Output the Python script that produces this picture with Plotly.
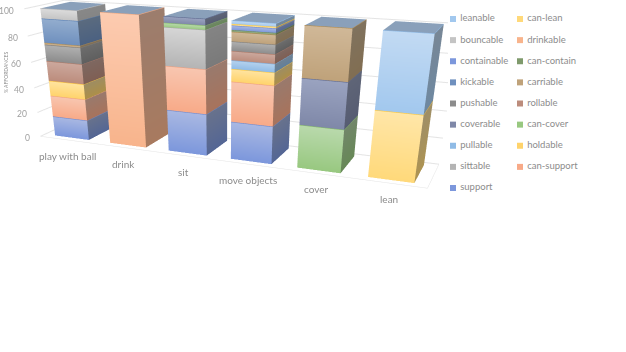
import numpy as np
import plotly.graph_objects as go

categories = ['play with ball', 'drink', 'sit', 'move objects', 'cover', 'lean']
z_ticks = [0, 20, 40, 60, 80, 100]

# stacking order, bottom to top: (name, colour at top of segment, colour at bottom)
series_names = ['support', 'can-support', 'sittable', 'holdable', 'pullable', 'can-cover',
                'coverable', 'rollable', 'pushable', 'carriable', 'kickable', 'can-contain',
                'containable', 'drinkable', 'bouncable', 'can-lean', 'leanable']
series_top = ['#A9B8E2', '#F8C6B0', '#D6D6D6', '#FFE4A0', '#B5D2EE', '#B9D9AC',
              '#9AA3C0', '#CCA99E', '#B0B0B0', '#D0B898', '#93ADCE', '#A0B590',
              '#A9B8E2', '#FCCBB0', '#DCDCDC', '#FFE6A8', '#C2DAF3']
series_bottom = ['#7C97DC', '#F8AA88', '#B4B4B4', '#FFD36B', '#8FBBE6', '#98C880',
                 '#7F88A8', '#BC8C7C', '#8C8C8C', '#BFA27A', '#6F90BE', '#7F9A6C',
                 '#7C97DC', '#F8B48C', '#C4C4C4', '#FFD97A', '#A2C8EE']
series_edge = ['#6F8AD0', '#F0A080', '#A8A8A8', '#FFC83C', '#7FAEDE', '#86BA6C',
               '#5F6A90', '#B07A68', '#808080', '#B08C50', '#5A80B4', '#6C8A58',
               '#6F8AD0', '#F0A880', '#B8B8B8', '#FFC83C', '#90BCE8']
legend_left = ['leanable', 'bouncable', 'containable', 'kickable', 'pushable', 'coverable',
               'pullable', 'sittable', 'support']
legend_right = ['can-lean', 'drinkable', 'can-contain', 'carriable', 'rollable', 'can-cover',
                'holdable', 'can-support', None]

values = {
    'support':     [16, 0, 32, 28.5, 0, 0],
    'can-support': [17, 0, 33, 29.5, 0, 0],
    'sittable':    [0, 0, 27.5, 0, 0, 0],
    'holdable':    [12, 0, 0, 9, 0, 0],
    'pullable':    [0, 0, 0, 6, 0, 0],
    'can-cover':   [0, 0, 3, 0, 32, 0],
    'coverable':   [0, 0, 4.5, 0, 33, 0],
    'rollable':    [15.5, 0, 0, 6.5, 0, 0],
    'pushable':    [12.5, 0, 0, 6.5, 0, 0],
    'carriable':   [1.5, 0, 0, 6.5, 35, 0],
    'kickable':    [18, 0, 0, 0, 0, 0],
    'can-contain': [0, 0, 0, 1.2, 0, 0],
    'containable': [0, 0, 0, 3, 0, 0],
    'drinkable':   [0, 100, 0, 0, 0, 0],
    'bouncable':   [7.5, 0, 0, 0, 0, 0],
    'can-lean':    [0, 0, 0, 1, 0, 48],
    'leanable':    [0, 0, 0, 2.3, 0, 52],
}

TOP_COLOR = '#8AA0BA'
GRID = '#E4E4E4'
TEXT = '#8C8C8C'
BAR_X = (0.19, 0.81)
BAR_Y = (0.12, 0.88)


def shade(color, f):
    r, g, b = int(color[1:3], 16), int(color[3:5], 16), int(color[5:7], 16)
    return '#%02X%02X%02X' % (int(r * f), int(g * f), int(b * f))


def box_faces(i, z0, z1, c_top, c_bot):
    # one cuboid as separate quads so every face keeps its own colours
    x0, x1 = i + BAR_X[0], i + BAR_X[1]
    y0, y1 = BAR_Y
    return [
        ([x0, x1, x1, x0], [y0, y0, y0, y0], [z0, z0, z1, z1], [c_bot, c_bot, c_top, c_top]),
        ([x1, x1, x1, x1], [y0, y1, y1, y0], [z0, z0, z1, z1],
         [shade(c_bot, .68), shade(c_bot, .68), shade(c_top, .62), shade(c_top, .62)]),
    ]


def top_face(i, z1):
    x0, x1 = i + BAR_X[0], i + BAR_X[1]
    y0, y1 = BAR_Y
    return ([x0, x1, x1, x0], [y0, y0, y1, y1], [z1, z1, z1, z1], [TOP_COLOR] * 4)


fig = go.Figure()
xs, ys, zs, cs, ii, jj, kk = [], [], [], [], [], [], []
ex, ey, ez, ec = [], [], [], []


def add_quad(q):
    n = len(xs)
    xs.extend(q[0]); ys.extend(q[1]); zs.extend(q[2]); cs.extend(q[3])
    ii.extend([n, n]); jj.extend([n + 1, n + 2]); kk.extend([n + 2, n + 3])


def add_edge(i, z, color):
    # thin coloured line round the front and side of a segment
    x0, x1 = i + BAR_X[0], i + BAR_X[1]
    y0, y1 = BAR_Y
    ex.extend([x0, x1, x1, None]); ey.extend([y0 - 0.002, y0 - 0.002, y1, None])
    ez.extend([z, z, z, None]); ec.extend([color, color, color, color])


for i in range(len(categories)):
    base = 0
    for s, name in enumerate(series_names):
        v = values[name][i]
        if v == 0:
            continue
        for q in box_faces(i, base, base + v, series_top[s], series_bottom[s]):
            add_quad(q)
        add_edge(i, base + v, series_edge[s])
        base += v
    add_quad(top_face(i, base))

fig.add_trace(go.Mesh3d(x=xs, y=ys, z=zs, i=ii, j=jj, k=kk, vertexcolor=cs,
                        flatshading=True, hoverinfo='skip', showscale=False,
                        lighting=dict(ambient=1, diffuse=0, specular=0, roughness=1, fresnel=0)))
fig.add_trace(go.Scatter3d(x=ex, y=ey, z=ez, mode='lines', line=dict(color=ec, width=1.2),
                           hoverinfo='skip', showlegend=False))

# legend as a small hidden cartesian panel
HEIGHT = 600
legend_rows = list(range(len(legend_left)))[::-1]
for names, col in [(legend_left, 0), (legend_right, 1)]:
    keep = [(n, r) for n, r in zip(names, legend_rows) if n]
    fig.add_trace(go.Scatter(
        x=[col] * len(keep), y=[r for n, r in keep],
        mode='markers+text', text=[' ' + n for n, r in keep], textposition='middle right',
        textfont=dict(family='Lato', size=9.5, color=TEXT),
        marker=dict(symbol='square', size=6,
                    color=[series_bottom[series_names.index(n)] for n, r in keep]),
        showlegend=False, hoverinfo='skip', cliponaxis=False, xaxis='x', yaxis='y'))

scene_labels = [dict(x=i + 0.5, y=0, z=0, text=c, showarrow=False, yshift=-16,
                     font=dict(family='Lato', size=10, color=TEXT))
                for i, c in enumerate(categories)]
scene_labels += [dict(x=0, y=0, z=t, text=str(t), showarrow=False, xanchor='right', xshift=-8, yshift=-2,
                      font=dict(family='Lato', size=8.5, color='#A0A0A0'))
                 for t in z_ticks]

axis_common = dict(showbackground=False, showspikes=False, title='', showticklabels=False, ticks='')
fig.update_layout(
    width=626, height=HEIGHT,
    margin=dict(l=0, r=0, t=0, b=0),
    paper_bgcolor='white',
    plot_bgcolor='white',
    showlegend=False,
    xaxis=dict(domain=[453 / 626, 587 / 626], range=[0, 2], visible=False),
    yaxis=dict(domain=[1 - 188 / HEIGHT, 1 - 19 / HEIGHT], range=[0, 8], visible=False),
    scene=dict(
        domain=dict(x=[0, 448 / 626], y=[0, 1]),
        aspectmode='manual',
        aspectratio=dict(x=3.0, y=0.516, z=0.941),
        camera=dict(
            eye=dict(x=1.984, y=-4.887, z=1.210),
            center=dict(x=0.080, y=-0.290, z=-1.595),
            up=dict(x=0, y=0, z=1),
        ),
        xaxis=dict(range=[0, 6], tickvals=[i + 0.5 for i in range(6)], showgrid=False,
                   showline=True, linecolor=GRID, zeroline=False, **axis_common),
        yaxis=dict(range=[0, 1], showgrid=False, showline=True,
                   linecolor=GRID, zeroline=False, **axis_common),
        zaxis=dict(range=[0, 100], tickvals=z_ticks, showgrid=True, gridcolor=GRID,
                   zeroline=False, showline=False, **axis_common),
        annotations=scene_labels,
    ),
    annotations=[dict(text='% AFFORDANCES', x=6 / 626, y=1 - 73 / HEIGHT, xref='paper', yref='paper',
                      xanchor='center', yanchor='middle', textangle=-90, showarrow=False,
                      font=dict(family='Lato', size=5, color=TEXT))],
)

# the default body margin would push the top of the chart out of the canvas
fig.write_html("out.html", config={'displayModeBar': False},
               post_script="document.body.style.margin='0';")
